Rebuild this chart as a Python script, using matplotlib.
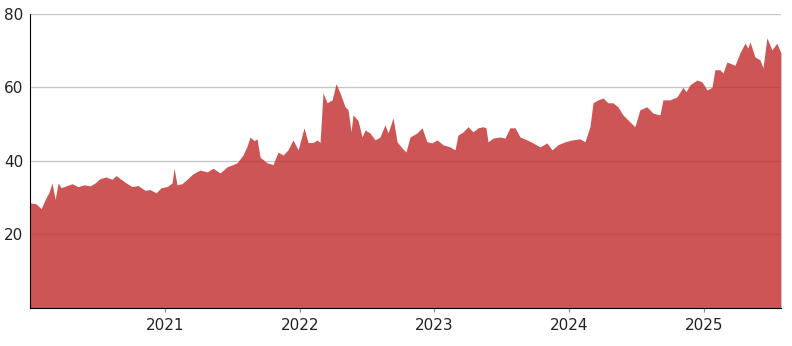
import matplotlib
matplotlib.use("Agg")
import matplotlib.pyplot as plt
import matplotlib.dates as mdates
import pandas as pd

# 时间（从2020-01-01起的年数）与价格
years_from_2020 = [
    0.000, 0.045, 0.082, 0.111, 0.141, 0.163, 0.186, 0.208, 0.230, 0.267,
    0.312, 0.356, 0.401, 0.445, 0.483, 0.520, 0.564, 0.609, 0.638, 0.676,
    0.713, 0.757, 0.802, 0.854, 0.891, 0.935, 0.973, 1.017, 1.054, 1.069,
    1.091, 1.128, 1.166, 1.210, 1.262, 1.314, 1.359, 1.411, 1.463, 1.507,
    1.537, 1.581, 1.611, 1.633, 1.663, 1.685, 1.708, 1.759, 1.804, 1.841,
    1.878, 1.915, 1.952, 1.990, 2.034, 2.064, 2.101, 2.131, 2.153, 2.175,
    2.205, 2.242, 2.272, 2.301, 2.339, 2.361, 2.383, 2.398, 2.435, 2.465,
    2.487, 2.524, 2.561, 2.598, 2.635, 2.658, 2.695, 2.725, 2.762, 2.791,
    2.821, 2.873, 2.910, 2.947, 2.984, 3.022, 3.066, 3.118, 3.155, 3.177,
    3.215, 3.252, 3.289, 3.326, 3.363, 3.385, 3.400, 3.437, 3.489, 3.526,
    3.563, 3.601, 3.638, 3.690, 3.734, 3.786, 3.838, 3.875, 3.920, 3.972,
    4.024, 4.083, 4.120, 4.157, 4.180, 4.217, 4.254, 4.291, 4.328, 4.365,
    4.402, 4.454, 4.491, 4.528, 4.580, 4.625, 4.677, 4.699, 4.751, 4.803,
    4.848, 4.870, 4.900, 4.952, 4.989, 5.026, 5.063, 5.085, 5.122, 5.145,
    5.174, 5.234, 5.271, 5.308, 5.330, 5.345, 5.382, 5.419, 5.442, 5.471,
    5.508, 5.545, 5.575,
]
prices = [
    28.6, 28.3, 27.0, 29.4, 31.5, 34.0, 29.5, 34.0, 32.7, 33.2,
    33.8, 33.0, 33.5, 33.2, 34.0, 35.2, 35.6, 35.0, 36.0, 35.0,
    34.0, 33.0, 33.3, 32.0, 32.2, 31.3, 32.7, 33.0, 34.0, 38.0,
    33.5, 33.8, 35.0, 36.5, 37.5, 37.0, 38.0, 36.7, 38.4, 39.0,
    39.5, 41.6, 44.0, 46.5, 45.5, 46.0, 41.0, 39.5, 39.0, 42.4,
    41.6, 43.0, 45.7, 43.0, 49.0, 45.0, 45.0, 45.7, 45.0, 58.5,
    55.8, 56.6, 61.0, 58.5, 54.7, 53.9, 47.9, 52.5, 51.0, 46.5,
    48.4, 47.6, 45.7, 46.5, 49.8, 47.6, 51.7, 45.2, 43.5, 42.4,
    46.5, 47.6, 49.0, 45.2, 44.9, 45.7, 44.4, 43.8, 43.0, 47.0,
    47.9, 49.3, 47.9, 49.0, 49.3, 49.0, 45.2, 46.2, 46.5, 46.2,
    49.0, 49.0, 46.5, 45.7, 44.9, 43.8, 44.9, 43.0, 44.4, 45.2,
    45.7, 46.0, 45.2, 49.3, 55.8, 56.6, 57.1, 55.8, 55.8, 54.7,
    52.5, 50.6, 49.3, 53.9, 54.7, 53.0, 52.5, 56.6, 56.6, 57.4,
    60.0, 58.8, 60.7, 62.0, 61.5, 59.3, 60.0, 64.8, 64.8, 63.9,
    66.9, 66.0, 69.4, 72.0, 70.7, 72.4, 68.3, 67.5, 65.3, 73.5,
    70.2, 72.0, 69.4,
]
year_ticks = [2021, 2022, 2023, 2024, 2025]
y_ticks = [20, 40, 60, 80]

start = pd.Timestamp("2020-01-01")
dates = [start + pd.Timedelta(days=y * 365.25) for y in years_from_2020]

fig = plt.figure(figsize=(7.92, 3.46), dpi=100)
ax = fig.add_axes([0.038, 0.110, 0.948, 0.850])

# 网格线先画，填充半透明盖在上面
ax.grid(True, axis="y", color="#c8c8c8", linewidth=1, zorder=0)
ax.set_axisbelow(True)
ax.fill_between(dates, prices, 0, color=(193 / 255, 43 / 255, 43 / 255),
                alpha=0.8, linewidth=0, zorder=2)

ax.set_ylim(0, 80)
ax.set_yticks(y_ticks)
ax.set_xlim(dates[0], dates[-1])
ax.set_xticks([pd.Timestamp(f"{y}-01-01") for y in year_ticks])
ax.xaxis.set_major_formatter(mdates.DateFormatter("%Y"))

for s in ["top", "right"]:
    ax.spines[s].set_visible(False)
ax.spines["left"].set_color("black")
ax.spines["bottom"].set_color("black")
ax.tick_params(axis="y", length=0, pad=5, labelsize=11, colors="#222222")
ax.tick_params(axis="x", length=3, color="#888888", pad=4, labelsize=11,
               labelcolor="#222222")

fig.savefig("out.png", dpi=100)
